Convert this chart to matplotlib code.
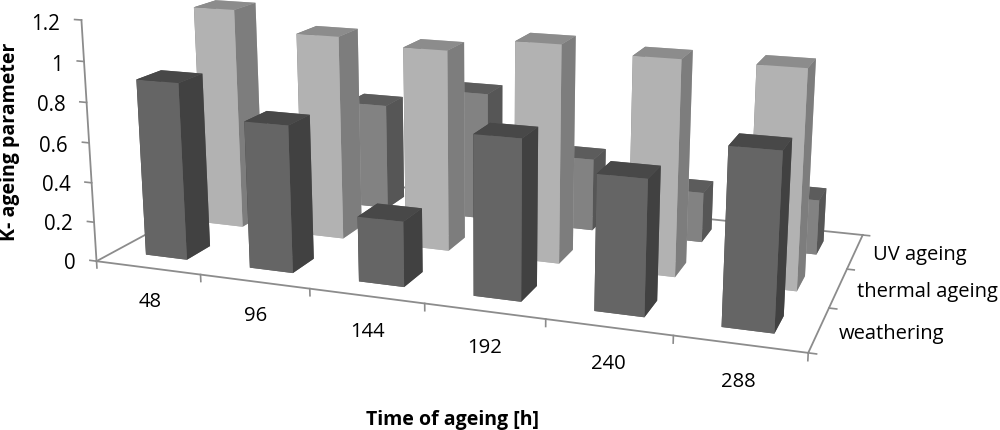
import matplotlib
matplotlib.use('Agg')
import matplotlib.pyplot as plt
import numpy as np
from mpl_toolkits.mplot3d import proj3d

plt.rcParams['font.family'] = ['Open Sans', 'DejaVu Sans']

times = ['48', '96', '144', '192', '240', '288']
rows = ['weathering', 'thermal ageing', 'UV ageing']
weathering = [0.89, 0.73, 0.32, 0.77, 0.64, 0.82]
thermal = [1.15, 1.05, 1.02, 1.09, 1.06, 1.06]
uv = [0.35, 0.57, 0.68, 0.38, 0.26, 0.28]
values = [weathering, thermal, uv]
z_ticks = [0, 0.2, 0.4, 0.6, 0.8, 1, 1.2]

# front, side and top shade per row
fronts = ['#656565', '#b2b2b2', '#828282']
sides = ['#414141', '#7d7d7d', '#565656']
tops = ['#484848', '#8c8c8c', '#5c5c5c']
grey = '#8c8c8c'

fig = plt.figure(figsize=(10, 4.31), dpi=100)
# camera fitted to the corners of the floor in the reference
ax = fig.add_axes([0.068, -0.2847, 0.82, 1.9], projection='3d')
ax.set_proj_type('persp', focal_length=0.368)
ax.view_init(elev=14.274, azim=-69.973)
ax.set_box_aspect((657.8, 323.86, 227.08), zoom=0.9734)
ax.set_axis_off()
ax.set_xlim(0, 6)
ax.set_ylim(0, 3)
ax.set_zlim(0, 1.2)

w = 0.40
d = 0.40
for r, vals in enumerate(values):
    for c, val in enumerate(vals):
        # faces: bottom, top, front, back, left, right
        cols = [fronts[r], tops[r], fronts[r], fronts[r], sides[r], sides[r]]
        ax.bar3d(c + 0.5 - w / 2, r + 0.5 - d / 2, 0, w, d, val, color=cols,
                 shade=False, edgecolor='none')

for a, b, h in [([0, 6], [0, 0], [0, 0]), ([6, 6], [0, 3], [0, 0]), ([0, 6], [3, 3], [0, 0]),
                ([0, 0], [0, 0], [0, 1.2]), ([0, 0], [0, 3], [0, 0])]:
    ax.plot(a, b, h, color=grey, lw=1.3, zorder=0)

# tick marks
for c in range(7):
    ax.plot([c, c], [0, 0], [0, -0.035], color=grey, lw=1.2)
for r in range(4):
    ax.plot([6, 6.06], [r, r], [0, 0], color=grey, lw=1.2)
for z in z_ticks:
    ax.plot([0, -0.065], [0, 0], [z, z], color=grey, lw=1.2)

M = ax.get_proj()


def label3d(x, y, z, s, **kw):
    # put the label where the 3d point lands on the canvas
    px, py, _ = proj3d.proj_transform(np.array([x], float), np.array([y], float), np.array([z], float), M)
    ax.text2D(px[0], py[0], s, transform=ax.transData, va='center', **kw)


for c, t in enumerate(times):
    label3d(c + 0.5, 0, -0.17, t, fontsize=14.6, ha='center')
for r, name in enumerate(rows):
    label3d(6.15, r + 0.5, -0.005, name, fontsize=14.5, ha='left')
for z in z_ticks:
    label3d(-0.21, 0, z - 0.022, '%g' % z, fontsize=14.8, ha='right')

fig.text(0.452, 0.025, 'Time of ageing [h]', fontsize=14, fontweight='bold', ha='center', va='center')
fig.text(0.01, 0.67, 'K- ageing parameter', fontsize=14, fontweight='bold', rotation=90, ha='center', va='center')
fig.savefig('out.png', dpi=100)
